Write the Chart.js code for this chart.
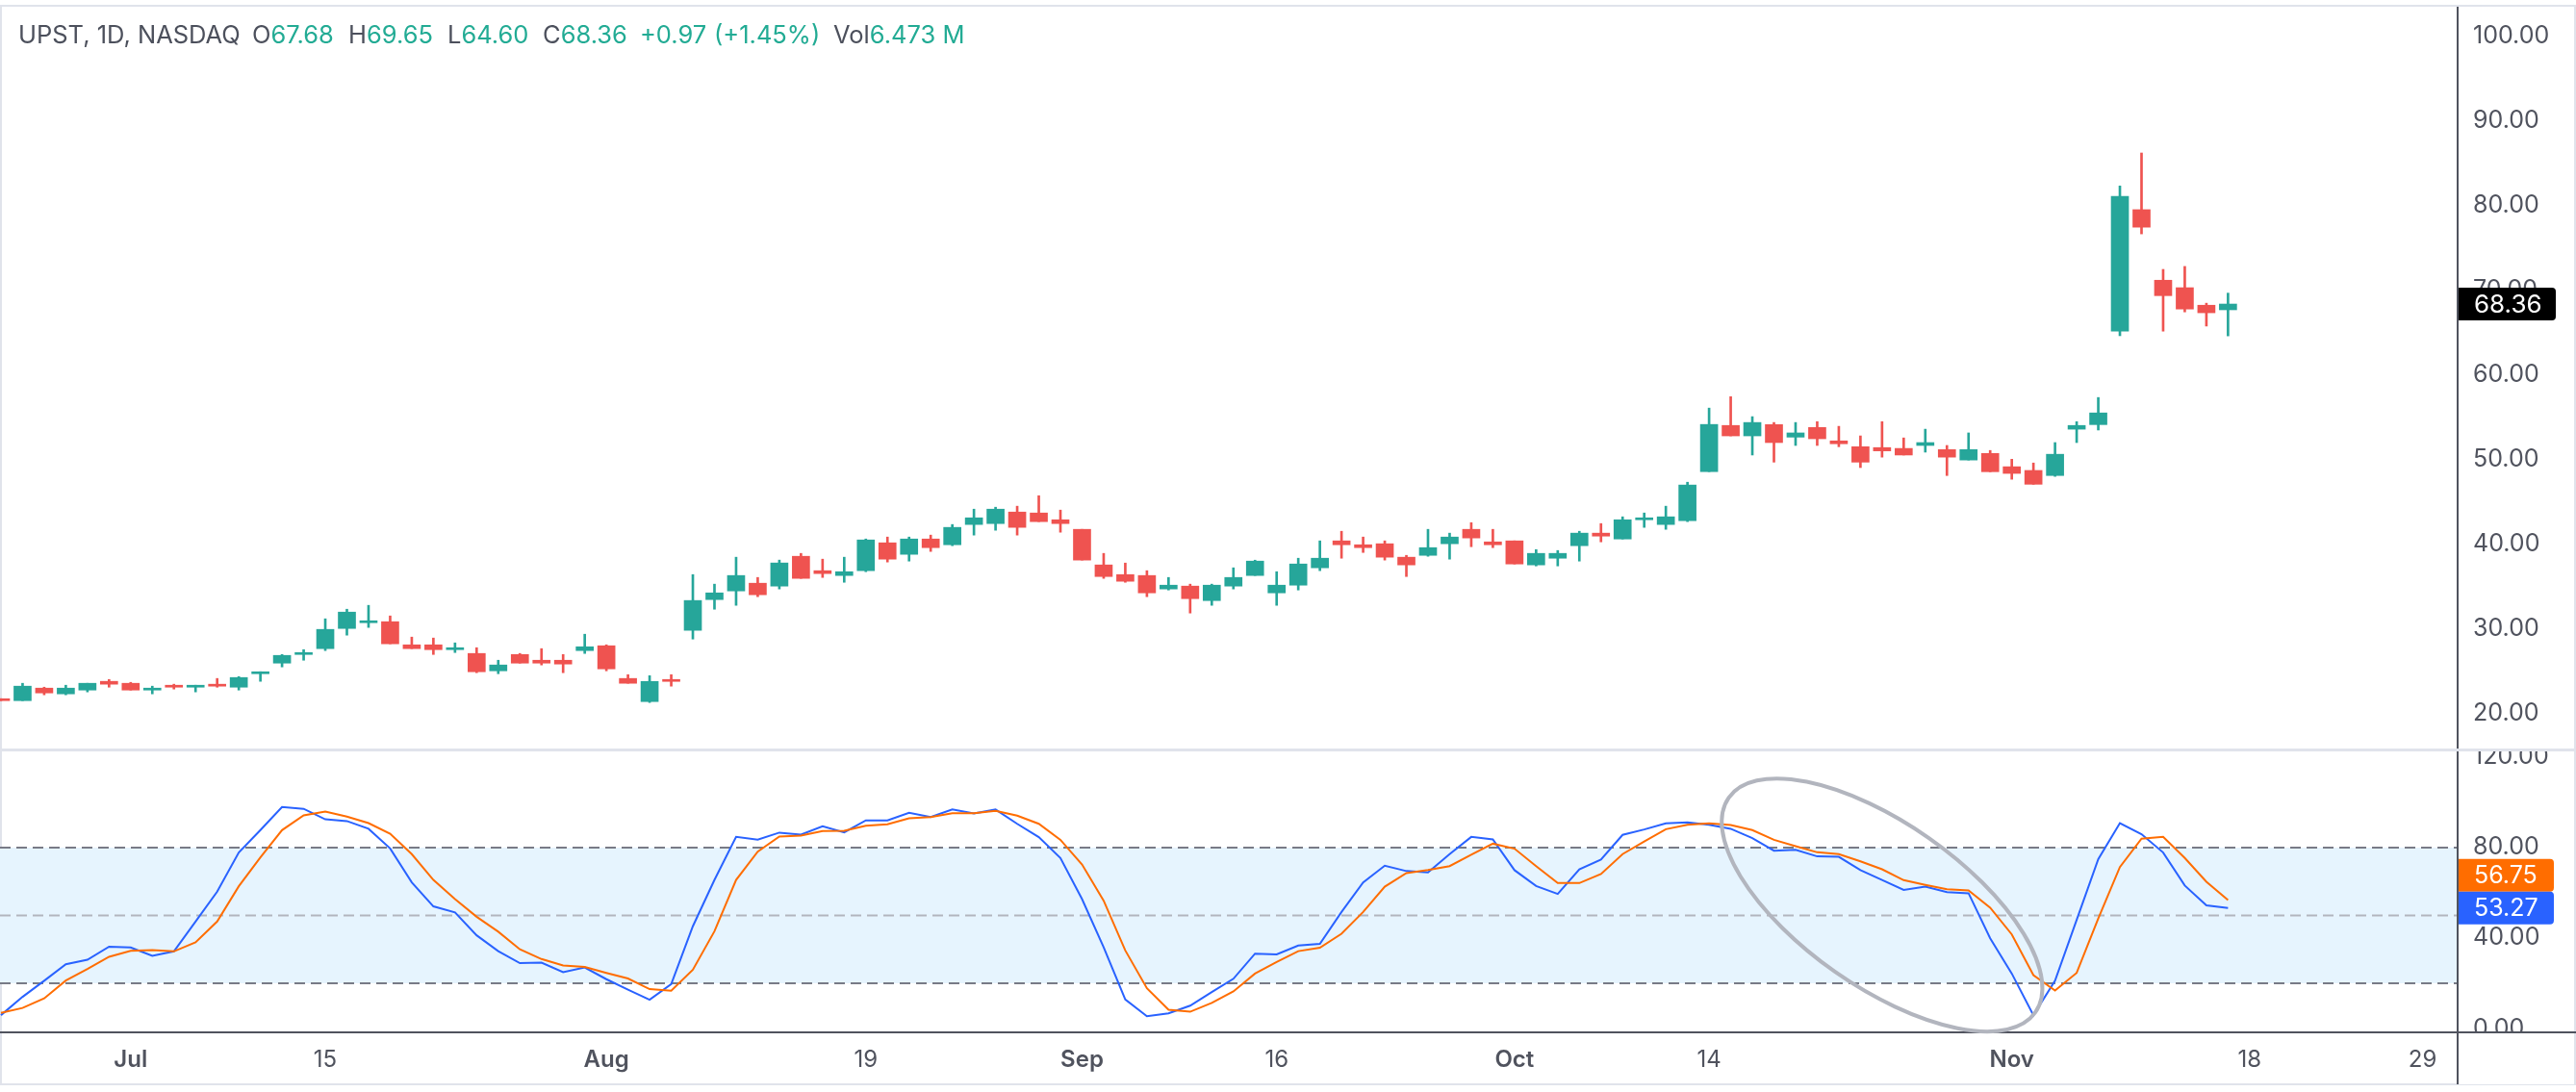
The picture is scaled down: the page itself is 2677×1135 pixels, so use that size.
<!DOCTYPE html>
<html>
<head>
<meta charset="utf-8">
<title>UPST</title>
<script src="https://cdn.jsdelivr.net/npm/chart.js@4"></script>
<style>
html, body { margin: 0; background: #fff; overflow: hidden; }
body { width: 2677px; height: 1135px; position: relative; font-family: Inter, sans-serif; }
#marco { position: absolute; left: 0; top: 5px; width: 2677px; height: 1123px; box-sizing: border-box; border: 2px solid #e0e3eb; }
#separador { position: absolute; left: 0; top: 778px; width: 2677px; height: 3px; background: #e0e3eb; }
canvas { position: absolute; left: 0; }
#precio { top: 7px; }
#estocastico { top: 781px; }
#titulo { position: absolute; left: 19px; top: 21px; font-size: 25.5px; line-height: 30px; color: #4c505c; white-space: nowrap; }
#titulo span { position: absolute; top: 0; }
#titulo .v { color: #22ab94; }
</style>
</head>
<body>
<div id="marco"></div>
<div id="separador"></div>
<canvas id="precio" width="2677" height="771"></canvas>
<canvas id="estocastico" width="2677" height="346"></canvas>
<div id="titulo">
  <span style="left:0">UPST, 1D, NASDAQ</span>
  <span style="left:243px">O<b class="v" style="font-weight:400">67.68</b></span>
  <span style="left:343px">H<b class="v" style="font-weight:400">69.65</b></span>
  <span style="left:446px">L<b class="v" style="font-weight:400">64.60</b></span>
  <span style="left:545px">C<b class="v" style="font-weight:400">68.36</b></span>
  <span style="left:646px" class="v">+0.97</span>
  <span style="left:723px" class="v">(+1.45%)</span>
  <span style="left:847px">Vol<b class="v" style="font-weight:400">6.473 M</b></span>
</div>
<script>
// VELAS (indice 0 = primera sesion visible, 103 = ultima)
const opens = [21.78,21.55,23.03,22.35,22.80,23.83,23.60,22.80,23.37,23.14,23.49,23.14,24.73,25.98,27.00,27.69,30.07,30.75,30.87,28.14,
  28.14,27.57,27.12,25.07,27.00,26.32,26.32,27.46,28.03,24.17,21.44,24.05,29.85,33.48,34.50,35.41,35.07,38.59,36.89,36.32,
  36.89,40.18,38.82,40.63,39.95,42.34,42.45,43.81,43.70,42.90,41.77,37.57,36.43,36.32,34.73,35.07,33.36,35.07,36.32,34.27,
  35.18,37.23,40.41,39.95,40.07,38.48,38.70,40.07,41.77,40.29,40.41,37.57,38.36,39.84,41.32,40.63,42.90,42.34,42.79,48.58,
  54.03,52.80,54.13,52.65,53.79,52.21,51.52,51.42,51.32,51.67,51.18,49.95,50.73,49.16,48.72,48.12,53.59,54.13,65.16,79.50,
  71.17,70.29,68.22,67.68];
const highs = [21.78,23.60,23.14,23.37,23.60,24.05,23.71,23.26,23.49,23.37,24.17,24.39,24.96,27.00,27.57,31.21,32.34,32.80,31.55,29.05,
  28.94,28.37,27.80,26.32,27.12,27.69,27.00,29.39,28.14,24.62,24.50,24.62,36.43,35.30,38.48,36.09,38.14,38.93,38.25,38.48,
  40.63,40.86,40.86,41.09,42.34,44.15,44.38,44.50,45.74,44.04,41.77,38.93,37.79,36.89,36.09,35.30,35.30,37.23,38.13,36.77,
  38.36,40.41,41.54,40.86,40.41,38.70,41.77,41.32,42.56,41.77,40.41,39.38,39.27,41.54,42.45,43.25,43.70,44.50,47.33,56.08,
  57.43,55.07,54.38,54.38,54.48,53.93,52.80,54.48,52.56,53.59,51.67,53.15,51.08,50.04,49.60,52.01,54.48,57.33,82.30,86.19,
  72.45,72.80,68.46,69.65];
const lows = [21.55,21.55,22.24,22.24,22.58,23.14,22.80,22.35,22.92,22.58,23.14,22.80,23.83,25.53,26.32,27.46,29.28,30.19,28.26,27.69,
  27.00,27.23,24.85,24.73,25.98,25.76,24.85,27.12,25.07,23.60,21.33,23.26,28.82,32.34,32.80,33.82,34.73,35.98,36.09,35.52,
  36.77,37.91,38.02,39.16,39.84,41.09,41.66,41.09,42.68,41.43,38.14,35.98,35.52,33.82,34.61,31.89,32.80,34.73,36.32,32.80,
  34.61,36.89,38.36,39.04,38.14,36.20,38.59,38.25,39.72,39.61,37.68,37.45,37.45,38.02,40.29,40.63,42.00,41.77,42.68,48.58,
  52.80,50.54,49.70,51.67,51.67,51.52,49.06,50.29,50.54,50.88,48.12,49.95,48.57,47.68,47.09,48.02,52.01,53.49,64.62,76.64,
  65.16,67.43,65.76,64.60];
const closes = [21.55,23.26,22.46,23.03,23.60,23.49,22.80,23.03,23.14,23.37,23.26,24.28,24.96,26.89,27.23,29.96,32.00,30.98,28.26,27.69,
  27.57,27.80,24.96,25.76,25.98,25.98,25.87,27.91,25.30,23.60,23.82,23.82,33.37,34.27,36.32,34.05,37.80,35.98,36.55,36.77,
  40.52,38.25,40.63,39.61,42.00,43.13,44.15,42.00,42.68,42.45,38.14,36.20,35.64,34.27,35.18,33.59,35.18,36.09,38.02,35.18,
  37.68,38.36,39.95,39.61,38.48,37.57,39.61,40.86,40.75,39.95,37.68,38.93,38.93,41.32,40.97,42.90,43.13,43.25,47.00,54.15,
  52.80,54.38,52.01,53.15,52.46,51.87,49.70,51.03,50.54,52.01,50.29,51.18,48.57,48.37,47.09,50.63,54.03,55.51,81.07,77.43,
  69.35,67.77,67.33,68.36];

// ESTOCASTICO
const stochK = [5.9,14,21.1,28.4,30.4,36.2,35.8,32.1,34.1,47.3,60.5,77.8,87.7,97.9,97.1,92.5,91.7,88.3,79.6,64.6,
  54,51.3,41.2,34.2,28.9,29.1,24.9,27,21.8,17.2,12.7,19.6,45.2,65.7,84.7,83.5,86.6,85.7,89.4,86.7,
  92,92,95.4,93.5,96.9,95.1,96.8,90.5,84.6,75.4,57.2,35.9,12.8,5.4,6.7,10.1,16.1,22,33.1,32.8,
  36.7,37.4,51.5,64.6,72,69.6,69,77.1,84.7,83.6,70,63,59.5,70.4,74.7,85.6,88,90.7,91.1,90.1,
  88.3,84.2,78.6,79,76.1,75.9,70,65.7,61.3,62.7,60.3,59.8,39.9,24.3,5.9,21.1,48,74.9,90.8,85.9,
  77.8,63.2,54.4,53.27];
const stochD = [6.9,9.1,13.3,21.2,26.3,31.7,34.3,34.7,34.1,38.1,47.3,62.9,75.7,87.7,94.2,95.9,93.7,90.8,86.1,77.1,
  65.7,57.2,49.4,42.8,35,30.7,27.9,27.2,24.6,22.1,17.4,16.7,26,43,65.7,78.2,84.9,85.3,87.3,87.4,
  89.6,90.3,92.95,93.5,95.2,95.2,96.2,94.1,90.5,83.4,72.5,56.5,34.5,17.8,8.3,7.4,11.3,16.4,24.3,29.4,
  34.2,35.7,41.9,51.5,62.7,68.7,70.1,71.8,76.8,81.7,79.5,71.8,64.3,64.3,68.3,77.1,82.7,88.1,90.1,90.7,
  90,87.7,83.4,80.6,77.9,77.1,73.9,70.4,65.6,63.5,61.6,61,53.4,41.6,23.6,16.8,24.6,48.7,71.4,83.9,
  84.7,75.4,64.9,56.75];

// EJES
const fechasIndice = [6,15,28,40,50,59,70,79,93,104,112];
const fechasTexto = ["Jul","15","Aug","19","Sep","16","Oct","14","Nov","18","29"];
const meses = ["Jul","Aug","Sep","Oct","Nov"];
const preciosEje = [20,30,40,50,60,70,80,90,100];
const estocasticoEje = [0,40,80,120];

const VERDE = "#26a69a";
const ROJO = "#ef5350";
const AZUL = "#2962ff";
const NARANJA = "#ff6d00";
const GRIS_TEXTO = "#50535e";
const FUENTE = "Inter, sans-serif";

const xMin = -0.044;
const xMax = 113.62;
const anchoEje = 123;

function colorVela(i) {
    return closes[i] >= opens[i] ? VERDE : ROJO;
}

function ejeX(mostrar) {
    return {
        type: "linear",
        min: xMin,
        max: xMax,
        offset: false,
        display: mostrar,
        grid: { display: false, drawTicks: false },
        border: { display: true, color: GRIS_TEXTO, width: 2 },
        afterBuildTicks: (eje) => { eje.ticks = fechasIndice.map(v => ({ value: v })); },
        afterFit: (eje) => {
            if (mostrar) eje.height = 54;
            eje.paddingLeft = 0;
            eje.paddingRight = 0;
        },
        ticks: {
            autoSkip: false,
            maxRotation: 0,
            padding: 14,
            color: GRIS_TEXTO,
            callback: (valor) => fechasTexto[fechasIndice.indexOf(valor)],
            font: (ctx) => ({
                family: FUENTE,
                size: 24,
                weight: ctx.tick && meses.includes(fechasTexto[fechasIndice.indexOf(ctx.tick.value)]) ? "600" : "400"
            })
        }
    };
}

function ejeY(min, max, marcas) {
    return {
        type: "linear",
        position: "right",
        min: min,
        max: max,
        grid: { display: false, drawTicks: false },
        border: { display: true, color: GRIS_TEXTO, width: 2 },
        afterBuildTicks: (eje) => { eje.ticks = marcas.map(v => ({ value: v })); },
        afterFit: (eje) => {
            eje.width = anchoEje;
            eje.paddingTop = 0;
            eje.paddingBottom = 0;
        },
        ticks: {
            padding: 16,
            color: GRIS_TEXTO,
            font: { family: FUENTE, size: 25 },
            callback: (valor) => valor.toFixed(2)
        }
    };
}

// etiqueta del ultimo valor sobre el eje derecho
function dibujarEtiqueta(chart, y, color, texto, ancho, tamano) {
    const ctx = chart.ctx;
    const izq = chart.chartArea.right + 1;
    ctx.save();
    ctx.fillStyle = color;
    ctx.beginPath();
    ctx.roundRect(izq, y - 17, ancho, 34, [0, 4, 4, 0]);
    ctx.fill();
    ctx.fillStyle = "#fff";
    ctx.font = tamano + "px " + FUENTE;
    ctx.textBaseline = "middle";
    ctx.fillText(texto, chart.chartArea.right + 17, y + 1);
    ctx.restore();
}

const pluginPrecio = {
    id: "ultimoPrecio",
    afterDraw(chart) {
        const ultimo = closes[closes.length - 1];
        dibujarEtiqueta(chart, chart.scales.y.getPixelForValue(ultimo), "#000", ultimo.toFixed(2), 101, 26);
    }
};

const pluginEstocastico = {
    id: "estocasticoExtra",
    afterDatasetsDraw(chart) {
        // ovalo a mano alzada sobre la divergencia
        const ctx = chart.ctx;
        ctx.save();
        ctx.strokeStyle = "#b2b5be";
        ctx.lineWidth = 4;
        ctx.beginPath();
        ctx.ellipse(chart.scales.x.getPixelForValue(87.0), chart.scales.y.getPixelForValue(54.6), 194.5, 84.9, 35 * Math.PI / 180, 0, Math.PI * 2);
        ctx.stroke();
        ctx.restore();
    },
    afterDraw(chart) {
        const ctx = chart.ctx;
        const area = chart.chartArea;
        // el eje tapa lo que cae por debajo de la linea inferior
        ctx.save();
        ctx.fillStyle = "#fff";
        ctx.fillRect(area.right + 1, area.bottom, chart.width - area.right - 3, chart.height - area.bottom);
        ctx.fillStyle = GRIS_TEXTO;
        ctx.fillRect(area.right, area.bottom - 1, chart.width - area.right, 2);
        ctx.fillRect(area.right - 1, area.top, 2, chart.height - area.top);
        ctx.restore();

        const k = stochK[stochK.length - 1];
        const d = stochD[stochD.length - 1];
        const yK = chart.scales.y.getPixelForValue(k);
        const yD = Math.min(chart.scales.y.getPixelForValue(d), yK - 34);
        dibujarEtiqueta(chart, yD, NARANJA, d.toFixed(2), 99, 25);
        dibujarEtiqueta(chart, yK, AZUL, k.toFixed(2), 99, 25);
    }
};

const comunes = {
    responsive: false,
    animation: false,
    devicePixelRatio: 1,
    layout: { autoPadding: false, padding: 0 },
    plugins: { legend: { display: false }, tooltip: { enabled: false } },
    events: []
};

new Chart(document.getElementById("precio"), {
    type: "bar",
    data: {
        datasets: [
            {
                label: "Cuerpo",
                data: opens.map((o, i) => ({ x: i, y: [o, closes[i]] })),
                backgroundColor: opens.map((o, i) => colorVela(i)),
                barThickness: 18,
                grouped: false
            },
            {
                label: "Mecha",
                data: lows.map((l, i) => ({ x: i, y: [l, highs[i]] })),
                backgroundColor: lows.map((l, i) => colorVela(i)),
                barThickness: 2,
                grouped: false
            }
        ]
    },
    options: {
        ...comunes,
        scales: {
            x: ejeX(false),
            y: ejeY(15.9, 103.45, preciosEje)
        }
    },
    plugins: [pluginPrecio]
});

function nivel(valor, color) {
    return {
        type: "line",
        data: [{ x: xMin, y: valor }, { x: xMax, y: valor }],
        borderColor: color,
        borderWidth: 2,
        borderDash: [11, 6],
        pointRadius: 0
    };
}

const linea = (serie, color) => ({
    type: "line",
    data: serie.map((v, i) => ({ x: i, y: v })),
    borderColor: color,
    borderWidth: 2,
    pointRadius: 0,
    tension: 0
});

new Chart(document.getElementById("estocastico"), {
    type: "line",
    data: {
        datasets: [
            linea(stochD, NARANJA),
            linea(stochK, AZUL),
            nivel(50, "#b2b5be"),
            nivel(20, "#787b86"),
            { ...nivel(80, "#787b86"), fill: { value: 20 }, backgroundColor: "#e6f4fe" }
        ]
    },
    options: {
        ...comunes,
        scales: {
            x: ejeX(true),
            y: ejeY(-1.7, 122.5, estocasticoEje)
        }
    },
    plugins: [pluginEstocastico]
});
</script>
</body>
</html>
